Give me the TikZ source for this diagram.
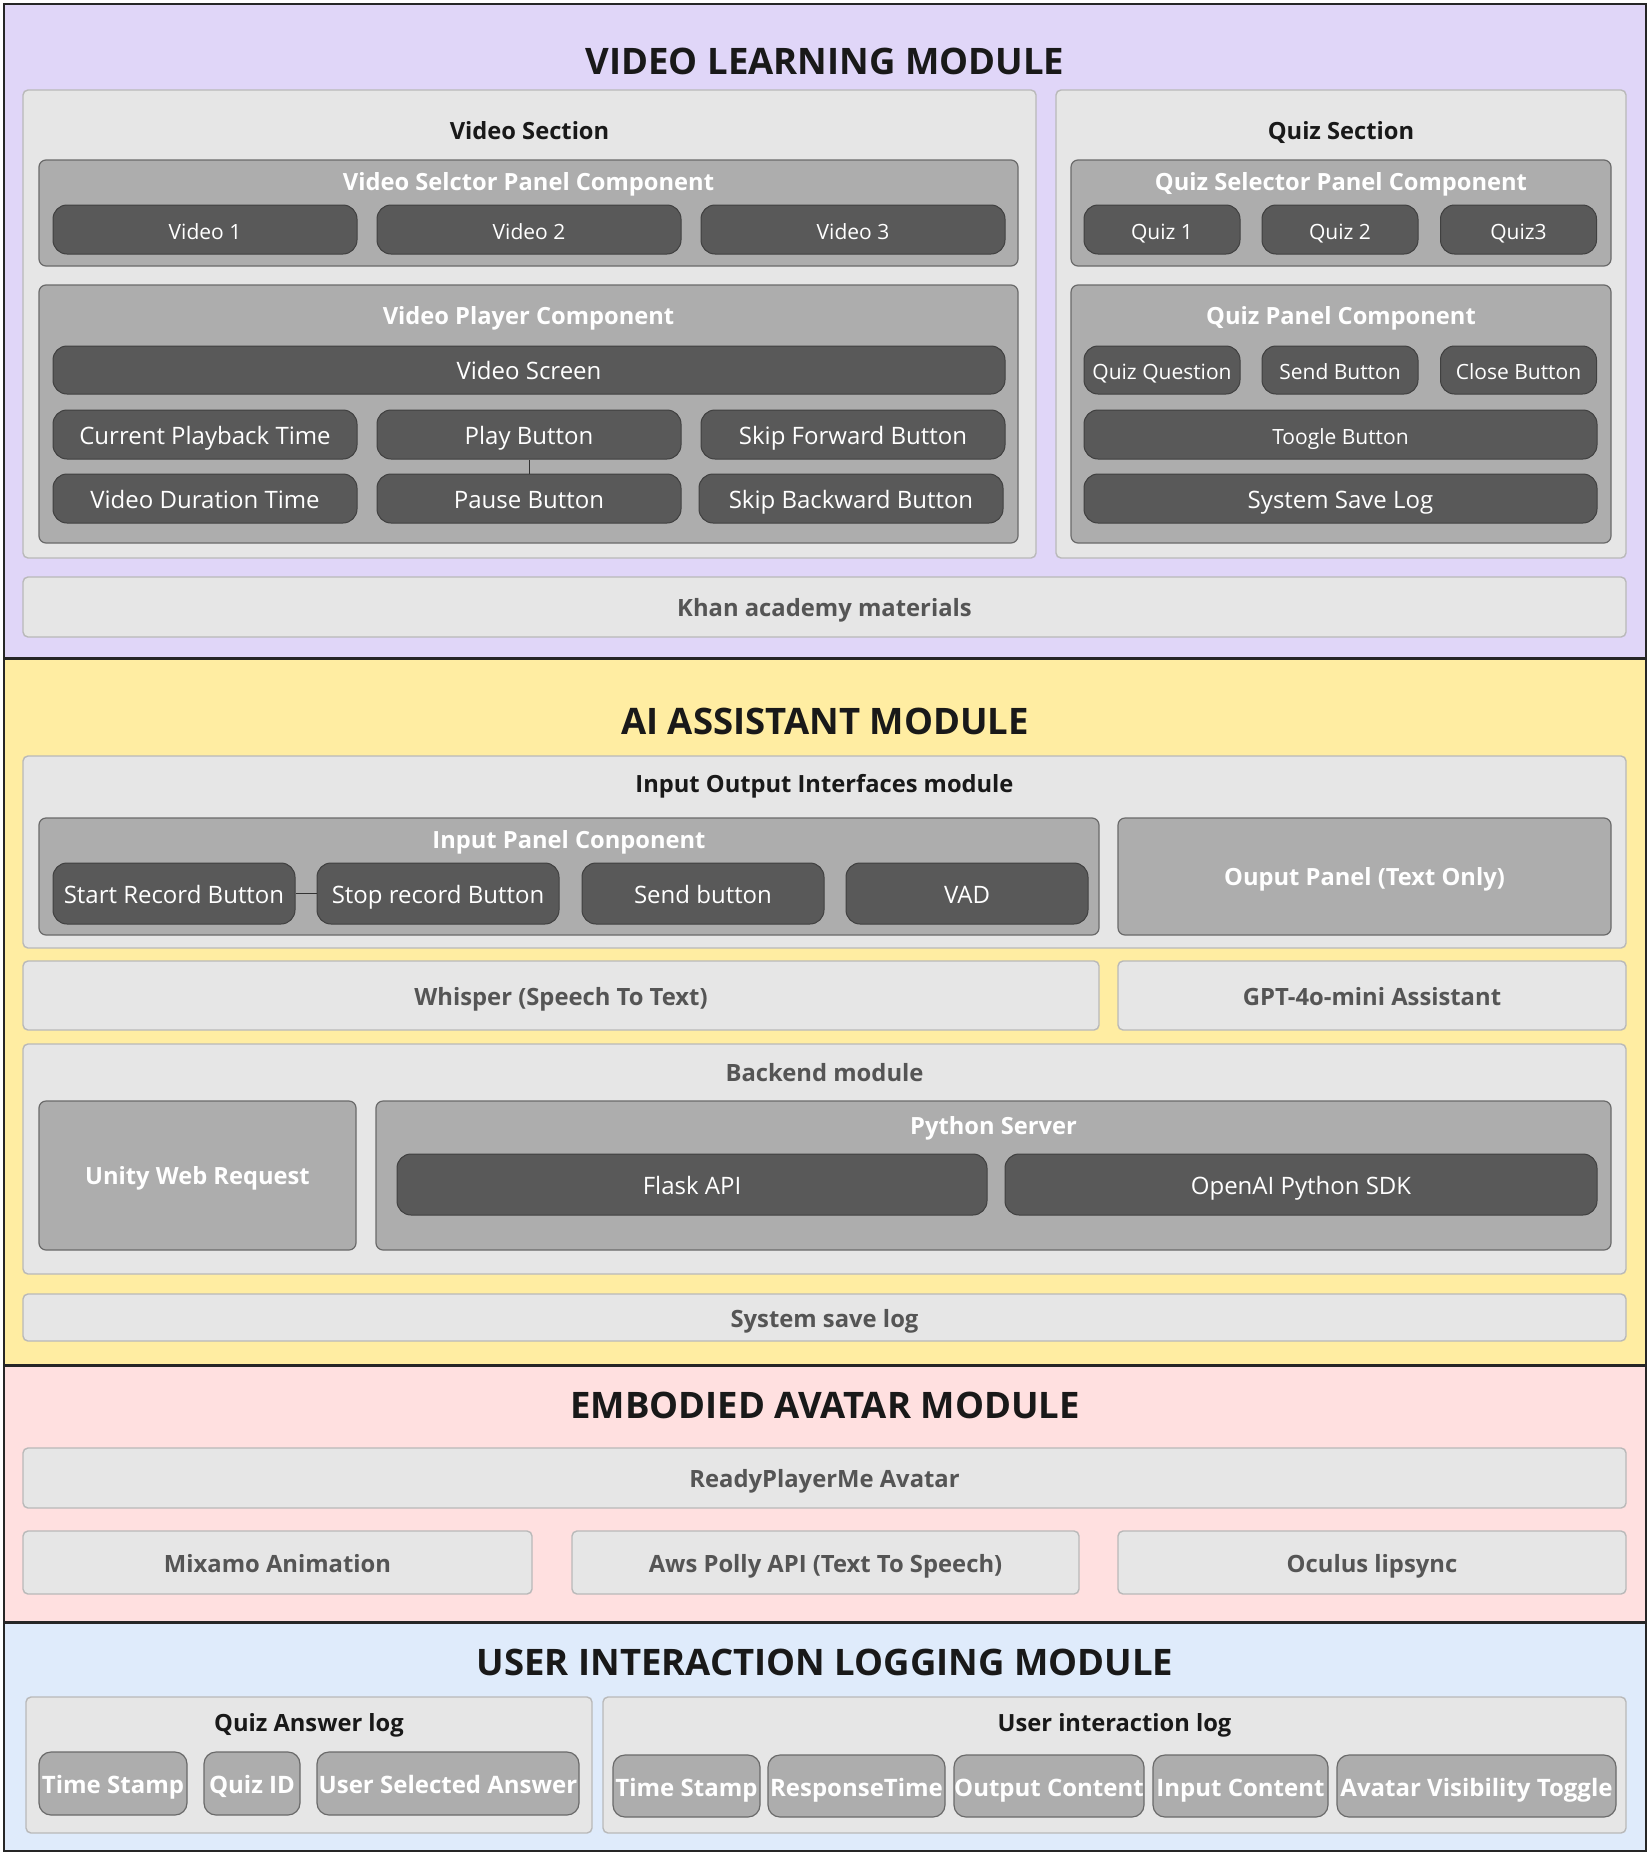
\documentclass[tikz,border=0pt]{standalone}
\usepackage{fontspec}
\IfFontExistsTF{Open Sans Bold}{%
  \setmainfont{Open Sans}[BoldFont={Open Sans Bold}]%
}{%
  \setmainfont{Noto Sans}[BoldFont={Noto Sans}, BoldFeatures={FakeBold=2.5}]%
}
\usetikzlibrary{positioning}

\definecolor{vlmbg}{HTML}{E0D6F8}
\definecolor{aibg}{HTML}{FFEDA2}
\definecolor{avbg}{HTML}{FFE0E0}
\definecolor{logbg}{HTML}{DFEBFB}
\definecolor{secfill}{HTML}{E6E6E6}
\definecolor{secline}{HTML}{B9B9B9}
\definecolor{panelfill}{HTML}{ADADAD}
\definecolor{panelline}{HTML}{6A6A6A}
\definecolor{btnfill}{HTML}{595959}
\definecolor{btnline}{HTML}{404040}
\definecolor{graytext}{HTML}{555555}

\tikzset{
  sz/.style 2 args={minimum width=#1pt, minimum height=#2pt},
  secbox/.style={draw=secline, fill=secfill, line width=1.4pt, rounded corners=5pt, inner sep=0pt},
  panelbox/.style={draw=panelline, fill=panelfill, line width=1.2pt, rounded corners=7pt, inner sep=0pt},
  btn/.style={draw=btnline, fill=btnfill, line width=1pt, rounded corners=14pt, inner sep=0pt, text=white, text height=19.5pt, text depth=0pt, font=\fontsize{24}{28}\selectfont},
  smallbtn/.style={btn, font=\fontsize{21}{25}\selectfont},
  logbtn/.style={draw=panelline, fill=panelfill, line width=1.2pt, rounded corners=12pt, inner sep=0pt, text=white, text height=20pt, text depth=0pt, font=\bfseries\fontsize{24}{28}\selectfont},
  modtitle/.style={inner sep=0pt, text=black!90, font=\bfseries\fontsize{36.5}{42}\selectfont},
  seclabel/.style={inner sep=0pt, text=black!90, text height=19pt, text depth=0pt, font=\bfseries\fontsize{23.7}{28}\selectfont},
  panellabel/.style={inner sep=0pt, text=white, text height=17pt, text depth=0pt, font=\bfseries\fontsize{23.7}{28}\selectfont},
  graylabel/.style={text=graytext, text height=19pt, text depth=0pt, font=\bfseries\fontsize{23.8}{28}\selectfont},
  link/.style={draw=black!80, line width=0.8pt}
}

\begin{document}
\begin{tikzpicture}[x=1pt, y=-1pt]
\useasboundingbox (0,0) rectangle (1650,1855);
% module bands
\fill[vlmbg] (4,4) rectangle (1646,658);
\fill[aibg] (4,658) rectangle (1646,1365);
\fill[avbg] (4,1365) rectangle (1646,1622);
\fill[logbg] (4,1622) rectangle (1646,1851);
\foreach \y in {658, 1365, 1622} {
  \draw[black!85, line width=3pt] (4,\y) -- (1646,\y);
}
\draw[black!85, line width=2.5pt] (4,4) rectangle (1646,1851);

% ---- video learning module
\node[modtitle] (vlmT) at (825,61) {VIDEO LEARNING MODULE};
\node[secbox, sz={1013}{468}] (vsec) at (529.5,324) {};
\node[seclabel] (vsecL) at (529.5,130) {Video Section};
\node[secbox, sz={570}{468}] (qsec) at (1341,324) {};
\node[seclabel] (qsecL) at (1341,130) {Quiz Section};

\node[panelbox, sz={979}{106}] (vsel) at (528.5,213) {};
\node[panellabel] (vselL) at (528.5,182) {Video Selctor Panel Component};
\node[smallbtn, sz={304}{49}] (vid1) at (205,229.5) {Video 1};
\node[smallbtn, sz={304}{49}] (vid2) at (529,229.5) {Video 2};
\node[smallbtn, sz={304}{49}] (vid3) at (853,229.5) {Video 3};

\node[panelbox, sz={979}{258}] (vplay) at (528.5,414) {};
\node[panellabel] (vplayL) at (528.5,316) {Video Player Component};
\node[btn, sz={952}{48}] (vscreen) at (529,370) {Video Screen};
\node[btn, sz={304}{49}] (curtime) at (205,434.5) {Current Playback Time};
\node[btn, sz={304}{49}] (play) at (529,434.5) {Play Button};
\node[btn, sz={304}{49}] (skipf) at (853,434.5) {Skip Forward Button};
\node[btn, sz={304}{49}] (durtime) at (205,498.5) {Video Duration Time};
\node[btn, sz={304}{49}] (pause) at (529,498.5) {Pause Button};
\node[btn, sz={304}{49}] (skipb) at (851,498.5) {Skip Backward Button};
\draw[link] (play) -- (pause);

\node[panelbox, sz={540}{106}] (qsel) at (1341,213) {};
\node[panellabel] (qselL) at (1341,182) {Quiz Selector Panel Component};
\node[smallbtn, sz={156}{49}] (quiz1) at (1162,229.5) {Quiz 1};
\node[smallbtn, sz={156}{49}] (quiz2) at (1340,229.5) {Quiz 2};
\node[smallbtn, sz={156}{49}] (quiz3) at (1518.5,229.5) {Quiz3};

\node[panelbox, sz={540}{258}] (qpanel) at (1341,414) {};
\node[panellabel] (qpanelL) at (1341,316) {Quiz Panel Component};
\node[smallbtn, sz={156}{48}] (qquest) at (1162,370) {Quiz Question};
\node[smallbtn, sz={156}{48}] (qsend) at (1340,370) {Send Button};
\node[smallbtn, sz={156}{48}] (qclose) at (1518.5,370) {Close Button};
\node[smallbtn, sz={513}{49}] (toggle) at (1340.5,434.5) {Toogle Button};
\node[btn, sz={513}{49}] (qlog) at (1340.5,498.5) {System Save Log};

\node[secbox, sz={1603}{60}, graylabel] (khan) at (824.5,607) {Khan academy materials};

% ---- ai assistant module
\node[modtitle] (aiT) at (825,721) {AI ASSISTANT MODULE};
\node[secbox, sz={1603}{192}] (iomod) at (824.5,852) {};
\node[seclabel] (iomodL) at (824.5,783) {Input Output Interfaces module};
\node[panelbox, sz={1060}{117}] (inpanel) at (569,876.5) {};
\node[panellabel] (inpanelL) at (569,840) {Input Panel Conponent};
\node[btn, sz={242}{61}] (recstart) at (174,893.5) {Start Record Button};
\node[btn, sz={242}{61}] (recstop) at (438,893.5) {Stop record Button};
\node[btn, sz={242}{61}] (sendbtn) at (703,893.5) {Send button};
\node[btn, sz={242}{61}] (vad) at (967,893.5) {VAD};
\draw[link] (recstart) -- (recstop);
\node[panelbox, sz={493}{117}, panellabel] (outpanel) at (1364.5,876.5) {Ouput Panel (Text Only)};

\node[secbox, sz={1076}{69}, graylabel] (whisper) at (561,995.5) {Whisper (Speech To Text)};
\node[secbox, sz={508}{69}, graylabel] (gpt) at (1372,995.5) {GPT-4o-mini Assistant};

\node[secbox, sz={1603}{230}] (backend) at (824.5,1159) {};
\node[graylabel, inner sep=0pt] (backendL) at (824.5,1072) {Backend module};
\node[panelbox, sz={317}{149}, panellabel] (unityreq) at (197.5,1175.5) {Unity Web Request};
\node[panelbox, sz={1235}{149}] (pyserver) at (993.5,1175.5) {};
\node[panellabel] (pyserverL) at (993.5,1126) {Python Server};
\node[btn, sz={590}{61}] (flask) at (692,1184.5) {Flask API};
\node[btn, sz={592}{61}] (openai) at (1301,1184.5) {OpenAI Python SDK};

\node[secbox, sz={1603}{47}, graylabel] (ailog) at (824.5,1317.5) {System save log};

% ---- embodied avatar module
\node[modtitle] (avT) at (825,1405) {EMBODIED AVATAR MODULE};
\node[secbox, sz={1603}{60}, graylabel] (rpm) at (824.5,1478) {ReadyPlayerMe Avatar};
\node[secbox, sz={509}{63}, graylabel] (mixamo) at (277.5,1562.5) {Mixamo Animation};
\node[secbox, sz={507}{63}, graylabel] (polly) at (825.5,1562.5) {Aws Polly API (Text To Speech)};
\node[secbox, sz={508}{63}, graylabel] (lipsync) at (1372,1562.5) {Oculus lipsync};

% ---- user interaction logging module
\node[modtitle] (logT) at (825,1662) {USER INTERACTION LOGGING MODULE};
\node[secbox, sz={566}{136}] (qalog) at (309,1765) {};
\node[seclabel] (qalogL) at (309,1722) {Quiz Answer log};
\node[logbtn, sz={148}{63}] (qastamp) at (113,1783.5) {Time Stamp};
\node[logbtn, sz={96}{63}] (qaid) at (252,1783.5) {Quiz ID};
\node[logbtn, sz={262}{63}] (qaans) at (448,1783.5) {User Selected Answer};

\node[secbox, sz={1023}{136}] (uilog) at (1114.5,1765) {};
\node[seclabel] (uilogL) at (1114.5,1722) {User interaction log};
\node[logbtn, sz={147}{62}] (uistamp) at (686.5,1786) {Time Stamp};
\node[logbtn, sz={177}{62}] (uiresp) at (856.5,1786) {ResponseTime};
\node[logbtn, sz={190}{62}] (uiout) at (1049,1786) {Output Content};
\node[logbtn, sz={175}{62}] (uiin) at (1240.5,1786) {Input Content};
\node[logbtn, sz={279}{62}] (uiavatar) at (1476.5,1786) {Avatar Visibility Toggle};
\end{tikzpicture}
\end{document}
